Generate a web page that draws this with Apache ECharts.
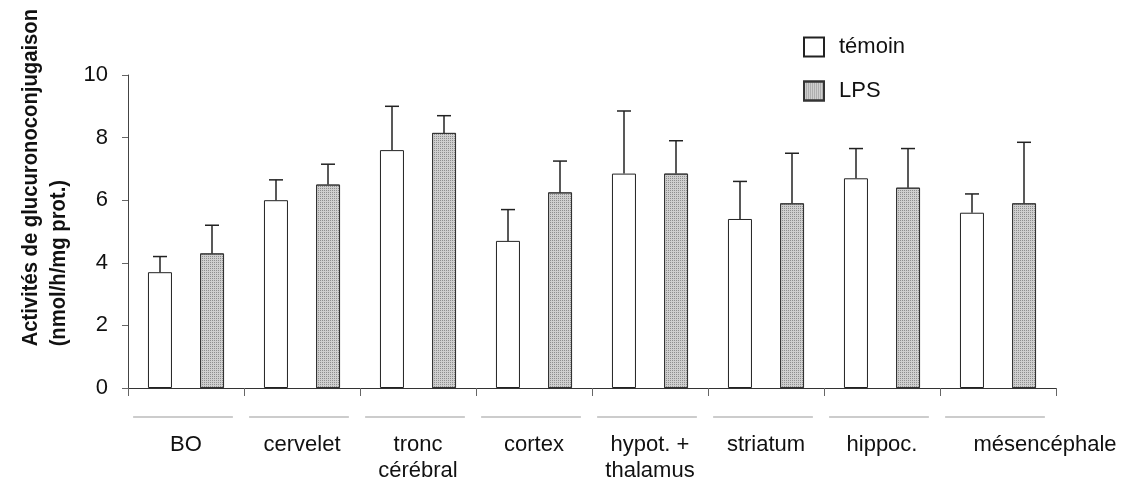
<!DOCTYPE html>
<html>
<head>
<meta charset="utf-8">
<script src="https://cdn.jsdelivr.net/npm/echarts@6/dist/echarts.min.js"></script>
<style>
html,body{margin:0;padding:0;background:#fff;}
#chart{width:1121px;height:488px;}
</style>
</head>
<body>
<div id="chart"></div>
<script>
// ---- data ----
const categories = ['BO', 'cervelet', 'tronc\ncérébral', 'cortex', 'hypot. +\nthalamus', 'striatum', 'hippoc.', 'mésencéphale'];
const temoin   = [3.7, 6.0, 7.6, 4.7, 6.85, 5.4, 6.7, 5.6];
const temoinSd = [0.5, 0.65, 1.4, 1.0, 2.0, 1.2, 0.95, 0.6];
const lps      = [4.3, 6.5, 8.15, 6.25, 6.85, 5.9, 6.4, 5.9];
const lpsSd    = [0.9, 0.65, 0.55, 1.0, 1.05, 1.6, 1.25, 1.95];
const yTicks   = [0, 2, 4, 6, 8, 10];
const seriesNames = ['témoin', 'LPS'];
const yTitle = ['Activités de glucuronoconjugaison', '(nmol/h/mg prot.)'];

// ---- layout constants ----
const BAR_W = 24;
const BAR_OFF = 26;
const FONT = 'Liberation Sans, Arial, sans-serif';

const chart = echarts.init(document.getElementById('chart'), null, {renderer: 'canvas'});

function errRender(offset) {
  return function (params, api) {
    const x = api.value(0), m = api.value(1), sd = api.value(2);
    const p0 = api.coord([x, m]);
    const p1 = api.coord([x, m + sd]);
    const cx = p0[0] + offset;
    return {
      type: 'group',
      children: [
        {type: 'line', shape: {x1: cx, y1: p0[1], x2: cx, y2: p1[1]}, style: {stroke: '#222', lineWidth: 1.5}},
        {type: 'line', shape: {x1: cx - 7, y1: p1[1], x2: cx + 7, y2: p1[1]}, style: {stroke: '#222', lineWidth: 1.5}}
      ]
    };
  };
}

const xData = categories.map(function (c, i) {
  if (i === categories.length - 1) return {value: c, textStyle: {padding: [0, 0, 0, 94]}};
  return c;
});

const lpsDecal = {
  symbol: 'rect', symbolSize: 1,
  dashArrayX: [1, 1], dashArrayY: [1, 1],
  color: 'rgba(90,90,90,0.55)'
};

const option = {
  backgroundColor: '#fff',
  animation: false,
  grid: {left: 128, right: 65, top: 75, bottom: 100, containLabel: false},
  legend: {
    data: seriesNames,
    orient: 'vertical',
    left: 798, top: 31,
    itemWidth: 20, itemHeight: 19, itemGap: 22,
    icon: 'rect',
    textStyle: {fontFamily: FONT, fontSize: 22, color: '#111', padding: [0, 0, 0, 10]}
  },
  graphic: [{
    type: 'text',
    left: 17, top: 9,
    rotation: Math.PI / 2,
    scaleX: 0.92,
    style: {
      text: yTitle.join('\n'),
      font: 'bold 22px ' + FONT,
      fill: '#111',
      align: 'center',
      lineHeight: 28
    }
  }],
  xAxis: {
    type: 'category',
    data: xData,
    axisLine: {lineStyle: {color: '#333', width: 1}},
    axisTick: {show: true, length: 8, lineStyle: {color: '#666'}},
    axisLabel: {fontFamily: FONT, fontSize: 22, color: '#111', margin: 44, lineHeight: 26, interval: 0}
  },
  yAxis: {
    type: 'value',
    min: yTicks[0], max: yTicks[yTicks.length - 1], interval: 2,
    axisLine: {show: true, lineStyle: {color: '#444', width: 1}},
    axisTick: {show: true, length: 6, lineStyle: {color: '#666'}},
    splitLine: {show: false},
    axisLabel: {fontFamily: FONT, fontSize: 22, color: '#111', margin: 20}
  },
  series: [
    {
      name: seriesNames[0], type: 'bar', data: temoin,
      barWidth: BAR_W, barGap: '117%',
      itemStyle: {color: '#ffffff', borderColor: '#222', borderWidth: 1}
    },
    {
      name: seriesNames[1], type: 'bar', data: lps,
      barWidth: BAR_W,
      itemStyle: {color: '#cfcfcf', borderColor: '#333', borderWidth: 1, decal: lpsDecal}
    },
    {
      name: 'errT', type: 'custom', clip: false, z: 5,
      renderItem: errRender(-BAR_OFF),
      data: temoin.map(function (v, i) { return [i, v, temoinSd[i]]; })
    },
    {
      name: 'errL', type: 'custom', clip: false, z: 5,
      renderItem: errRender(BAR_OFF),
      data: lps.map(function (v, i) { return [i, v, lpsSd[i]]; })
    },
    {
      name: 'under', type: 'custom', clip: false, silent: true,
      renderItem: function (params, api) {
        const p = api.coord([api.value(0), 0]);
        const bw = api.size([1, 0])[0];
        return {type: 'line', shape: {x1: p[0] - 3 - bw * 0.43, y1: p[1] + 29, x2: p[0] - 3 + bw * 0.43, y2: p[1] + 29},
                style: {stroke: '#999', lineWidth: 1.2}};
      },
      data: categories.map(function (c, i) { return [i, 0]; })
    }
  ]
};
chart.setOption(option);
</script>
</body>
</html>
